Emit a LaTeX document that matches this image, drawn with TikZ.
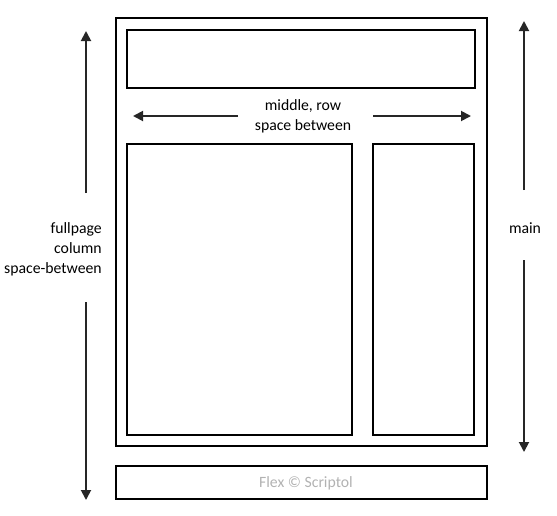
\documentclass[tikz,border=0pt]{standalone}
\usepackage{fontspec}
\setmainfont{Carlito}
\usetikzlibrary{arrows.meta,fit}
\tikzset{
  box/.style={draw=black, line width=2.2pt, inner sep=0pt, fill=none},
  arr/.style={draw=black!85, line width=1.4pt, -{Triangle[length=7.5pt,width=7.5pt]}},
  lbl/.style={font=\fontsize{11.8}{15}\selectfont, text=black, inner sep=0pt},
}
\begin{document}
\begin{tikzpicture}[x=0.75pt,y=-0.75pt]
\useasboundingbox (0,0) rectangle (557,515);
% boxes
\node[box, fit={(116,18)(487,446)}] (main) {};
\node[box, fit={(127,30)(475,88)}] (header) {};
\node[box, fit={(127,144)(352,435)}] (left) {};
\node[box, fit={(373,144)(474,435)}] (right) {};
\node[box, fit={(116,466)(487,499)}] (footer) {};
\node[lbl, text=black!30] (foot) at (306,483) {Flex © Scriptol};
% labels
\node[lbl, align=center] (mid) at (303,116) {middle, row\\space between};
\node[lbl, align=right, anchor=east] (full) at (102,249) {fullpage\\column\\space-between};
\node[lbl] (mainlbl) at (525,228) {main};
% arrow coordinates
\coordinate (mlA) at (238,116);
\coordinate (mlB) at (133,116);
\coordinate (mrA) at (373,116);
\coordinate (mrB) at (471,116);
\coordinate (lA) at (86,193);
\coordinate (lB) at (86,31);
\coordinate (lC) at (86,302);
\coordinate (lD) at (86,500);
\coordinate (rA) at (524,190);
\coordinate (rB) at (524,21);
\coordinate (rC) at (524,260);
\coordinate (rD) at (524,452);
\draw[arr] (mlA) -- (mlB);
\draw[arr] (mrA) -- (mrB);
\draw[arr] (lA) -- (lB);
\draw[arr] (lC) -- (lD);
\draw[arr] (rA) -- (rB);
\draw[arr] (rC) -- (rD);
\end{tikzpicture}
\end{document}
